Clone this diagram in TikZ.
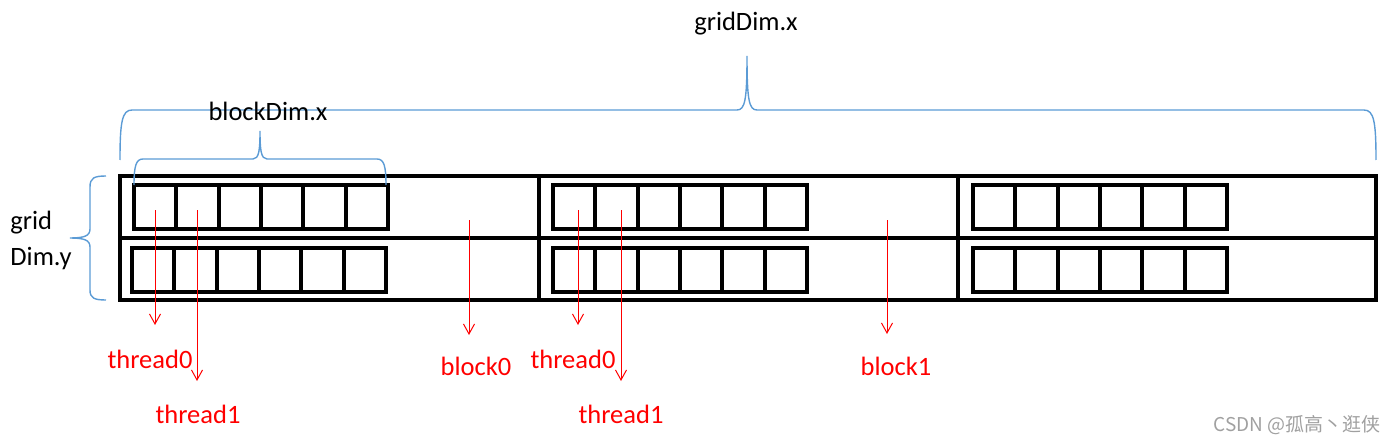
\documentclass[tikz,border=0pt]{standalone}
\usepackage{fontspec}
\setmainfont{Carlito}
\newfontfamily\cjkfont{Noto Sans CJK SC}
\usepackage{xcolor}
\usetikzlibrary{arrows.meta}

\definecolor{braceblue}{HTML}{5B9BD5}
\definecolor{markgray}{HTML}{A0A0A0}

\tikzset{
  gridline/.style={line width=2pt,black},
  cell/.style={line width=2pt,black},
  brace/.style={line width=0.7pt,braceblue},
  pointer/.style={red,line width=0.5pt,-{Straight Barb[length=5pt,width=5.5pt]}},
  dimtext/.style={inner sep=0pt,font=\fontsize{13.25}{18}\selectfont},
  idtext/.style={inner sep=0pt,red,font=\fontsize{13.25}{16}\selectfont},
}

\begin{document}
\begin{tikzpicture}[x=0.5pt,y=-0.5pt]
  \useasboundingbox (0,0) rectangle (1398,444);
  % Gitter aus 3 x 2 Bloecken
  \draw[gridline] (120,176) rectangle (1376,300);
  \draw[gridline] (120,238) -- (1376,238);
  \draw[gridline] (539,176) -- (539,300);
  \draw[gridline] (958,176) -- (958,300);
  % Threads: je Block zwei Reihen mit 6 Zellen
  \foreach \x/\y in {134/185, 132/247.5, 553/185, 553/247.5, 973/185, 973/247.5} {
    \draw[cell] (\x,\y) rectangle +(254,44);
    \foreach \i in {1,...,5}
      \draw[cell] (\x+\i*42.33,\y) -- +(0,44);
  }
  % Klammer gridDim.x
  \draw[brace] (120,160) .. controls (120,122) and (122,110) .. (132,110) -- (737,110)
    .. controls (745,110) and (747,100) .. (747,56)
    .. controls (747,100) and (749,110) .. (757,110) -- (1364,110)
    .. controls (1374,110) and (1376,122) .. (1376,160);
  \node[dimtext] (gdx) at (746,24) {gridDim.x};
  % Klammer blockDim.x
  \draw[brace] (134,185) .. controls (134,166) and (136,159) .. (143,159) -- (253,159)
    .. controls (259,159) and (260,150) .. (260,131)
    .. controls (260,150) and (261,159) .. (267,159) -- (377,159)
    .. controls (384,159) and (386,166) .. (386,185);
  \node[dimtext] (bdx) at (268,111) {blockDim.x};
  % Klammer gridDim.y
  \draw[brace] (106,176) .. controls (94,176) and (90,178) .. (90,187) -- (90,229)
    .. controls (90,236) and (84,238) .. (70,238)
    .. controls (84,238) and (90,240) .. (90,247) -- (90,290)
    .. controls (90,298) and (94,300) .. (106,300);
  \node[dimtext,align=left,anchor=west] (gdy) at (10,240) {grid\\Dim.y};
  % Pfeile zu threads und blocks
  \foreach \n/\x/\ya/\yb in {tza/155/210/325, toa/197/210/381, bza/469/220/335,
                             tzb/578/210/325, tob/621/210/381, bob/887/220/334} {
    \coordinate (\n-s) at (\x,\ya);
    \coordinate (\n-e) at (\x,\yb);
    \draw[pointer] (\n-s) -- (\n-e);
  }
  \node[idtext] (tza) at (150,359) {thread0};
  \node[idtext] (toa) at (198,414) {thread1};
  \node[idtext] (bza) at (476,366) {block0};
  \node[idtext] (tzb) at (573,359) {thread0};
  \node[idtext] (tob) at (621,414) {thread1};
  \node[idtext] (bob) at (896,366) {block1};
  % Wasserzeichen
  \node[inner sep=0pt,markgray,font=\cjkfont\fontsize{9.5}{11}\selectfont] (mark) at (1297,425) {CSDN @孤高丶逛侠};
\end{tikzpicture}
\end{document}
